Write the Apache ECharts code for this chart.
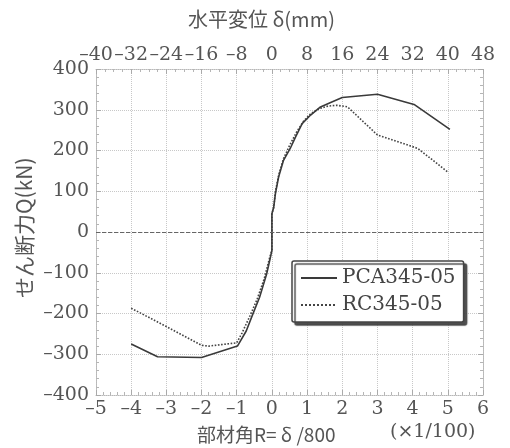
<!DOCTYPE html>
<html>
<head>
<meta charset="utf-8">
<script src="https://cdn.jsdelivr.net/npm/echarts@6/dist/echarts.min.js"></script>
<style>html,body{margin:0;padding:0;background:#fff}#c{width:510px;height:448px}</style>
</head>
<body>
<div id="c"></div>
<script>
// Data
const pcaR = [-4, -3.25, -2, -0.98, -0.73, -0.54, -0.35, -0.15, -0.05, 0, 0, 0.05, 0.1, 0.19, 0.33, 0.52, 0.67, 0.86, 1.1, 1.38, 1.67, 2.0, 3.0, 4.04, 5.06];
const pcaQ = [-275, -306, -308, -280, -243, -201, -160, -103, -65, -45, 45, 60, 94, 135, 176, 205, 233, 266, 287, 307, 318, 330, 338, 313, 252];
const rcR = [-4, -3, -2, -1.8, -1.0, -0.85, -0.62, -0.42, -0.22, -0.07, 0, 0, 0.05, 0.1, 0.2, 0.33, 0.5, 0.7, 0.9, 1.1, 1.35, 1.6, 1.85, 2.15, 3.0, 4.15, 5.0];
const rcQ = [-187, -232, -278, -280, -272, -248, -205, -165, -115, -65, -45, 45, 60, 100, 142, 180, 212, 245, 272, 290, 303, 309, 311, 307, 238, 205, 147];
const seriesNames = ['PCA345-05', 'RC345-05'];
const xTicksR = { min: -5, max: 6, interval: 1 };
const xTicksDelta = { min: -40, max: 48, interval: 8 };
const yTicks = { min: -400, max: 400, interval: 100 };
const topTitle = '水平変位 δ(mm)';
const bottomTitle = '部材角R= δ /800';
const unitNote = '(×1/100)';
const yTitle = 'せん断力Q(kN)';

const NUM_FONT = '"DejaVu Serif", "Liberation Serif", serif';
const JP_FONT = '"Noto Sans CJK JP", "DejaVu Sans", sans-serif';
const TXT = '#555';
const fmt = v => String(v).replace('-', '\u2013');

const gridLine = { show: true, lineStyle: { color: '#c8c8c8', type: 'dotted', width: 1 } };
const frameLine = { show: true, onZero: false, lineStyle: { color: '#b8b8b8', type: 'dotted', width: 1 } };
const tick = { show: true, inside: true, length: 5, lineStyle: { color: '#aaa' } };
const minor = { show: true, splitNumber: 5, length: 3, lineStyle: { color: '#b5b5b5' } };
const lbl = { color: TXT, fontFamily: NUM_FONT, fontSize: 19, formatter: fmt };

const chart = echarts.init(document.getElementById('c'), null, { renderer: 'canvas' });
chart.setOption({
  animation: false,
  backgroundColor: '#fff',
  grid: { left: 96, right: 27, top: 69, bottom: 53, containLabel: false },
  xAxis: [
    { type: 'value', position: 'bottom', min: xTicksR.min, max: xTicksR.max, interval: xTicksR.interval,
      axisLine: frameLine, axisTick: tick, minorTick: minor, splitLine: gridLine,
      axisLabel: Object.assign({ margin: 5 }, lbl) },
    { type: 'value', position: 'top', min: xTicksDelta.min, max: xTicksDelta.max, interval: xTicksDelta.interval,
      axisLine: frameLine, axisTick: tick, minorTick: Object.assign({}, minor, { splitNumber: 4 }), splitLine: { show: false },
      axisLabel: Object.assign({ margin: 4 }, lbl) }
  ],
  yAxis: [
    { type: 'value', position: 'left', min: yTicks.min, max: yTicks.max, interval: yTicks.interval,
      axisLine: frameLine, axisTick: tick, minorTick: minor, splitLine: gridLine,
      axisLabel: Object.assign({ margin: 7 }, lbl) },
    { type: 'value', position: 'right', min: yTicks.min, max: yTicks.max, interval: yTicks.interval,
      axisLine: frameLine, axisTick: tick, minorTick: minor, splitLine: { show: false },
      axisLabel: { show: false } }
  ],
  legend: {
    orient: 'vertical', left: 292, top: 261,
    data: seriesNames,
    backgroundColor: '#fff', borderColor: '#444', borderWidth: 1.5, borderRadius: 2,
    shadowColor: 'rgba(60,60,60,0.9)', shadowBlur: 1, shadowOffsetX: 3, shadowOffsetY: 3,
    padding: [7, 8, 7, 8], itemGap: 7, itemWidth: 36, itemHeight: 14,
    itemStyle: { opacity: 0 },
    textStyle: { color: '#444', fontFamily: NUM_FONT, fontSize: 20 }
  },
  series: [
    { name: seriesNames[0], type: 'line', xAxisIndex: 0, yAxisIndex: 0,
      data: pcaR.map((r, i) => [r, pcaQ[i]]), symbol: 'none', smooth: false,
      lineStyle: { color: '#3a3a3a', width: 1.6, type: 'solid' }, itemStyle: { color: '#3a3a3a' },
      markLine: { silent: true, symbol: 'none', label: { show: false },
        lineStyle: { color: '#666', type: [4, 2], width: 1 }, data: [{ yAxis: 0 }] },
      z: 3 },
    { name: seriesNames[1], type: 'line', xAxisIndex: 0, yAxisIndex: 0,
      data: rcR.map((r, i) => [r, rcQ[i]]), symbol: 'none', smooth: false,
      lineStyle: { color: '#444', width: 1.6, type: 'dotted' }, itemStyle: { color: '#444' },
      z: 2 }
  ],
  graphic: [
    { type: 'text', x: 188, y: 9, style: { text: topTitle, fill: TXT, font: '20px ' + JP_FONT } },
    { type: 'text', x: 197, y: 425, style: { text: bottomTitle, fill: TXT, font: '19px ' + JP_FONT } },
    { type: 'text', x: 390, y: 423, style: { text: unitNote, fill: TXT, font: '19px ' + NUM_FONT } },
    { type: 'text', x: 14, y: 298, rotation: Math.PI / 2, style: { text: yTitle, fill: TXT, font: '21px ' + JP_FONT } }
  ]
});
</script>
</body>
</html>
